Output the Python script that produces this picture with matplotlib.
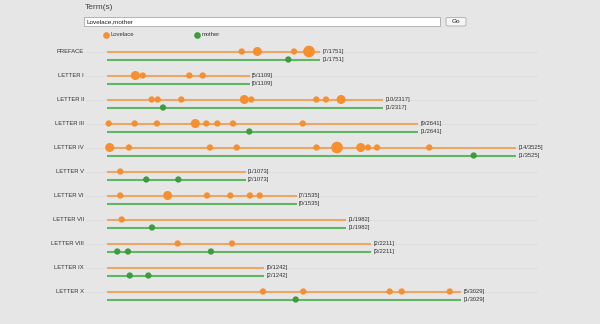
import matplotlib
matplotlib.use('Agg')
import matplotlib.pyplot as plt
from matplotlib.patches import Rectangle, FancyBboxPatch

plt.rcParams['font.family'] = ['Liberation Sans', 'DejaVu Sans']

# chapters and their lengths (words)
chapters = ['PREFACE', 'LETTER I', 'LETTER II', 'LETTER III', 'LETTER IV', 'LETTER V',
            'LETTER VI', 'LETTER VII', 'LETTER VIII', 'LETTER IX', 'LETTER X']
word_counts = [1751, 1109, 2317, 2641, 3525, 1073, 1535, 1982, 2211, 1242, 3029]

# term "Lovelace": word offsets of the hits and number of hits per dot
lovelace_pos = [
    [1225, 1367, 1700, 1836],
    [260, 327, 750, 871],
    [408, 463, 677, 1249, 1312, 1902, 1990, 2127],
    [18, 254, 456, 804, 904, 1004, 1146, 1779],
    [27, 202, 937, 1180, 1904, 2090, 2305, 2371, 2453, 2927],
    [123],
    [123, 553, 910, 1122, 1300, 1388],
    [136],
    [644, 1137],
    [],
    [1418, 1784, 2568, 2677, 3113],
]
lovelace_hits = [
    [1, 2, 1, 3],
    [2, 1, 1, 1],
    [1, 1, 1, 2, 1, 1, 1, 2],
    [1, 1, 1, 2, 1, 1, 1, 1],
    [2, 1, 1, 1, 1, 3, 2, 1, 1, 1],
    [1],
    [1, 2, 1, 1, 1, 1],
    [1],
    [1, 1],
    [],
    [1, 1, 1, 1, 1],
]

# term "mother"
mother_pos = [[1648], [], [511], [1294], [3330], [359, 650], [], [411], [96, 193, 946], [209, 378], [1715]]
mother_hits = [[1], [], [1], [1], [1], [1, 1], [], [1], [1, 1, 1], [1, 1], [1]]

terms = ['Lovelace', 'mother']
dot_colors = ['#f78f2e', '#3d9d3d']
line_colors = ['#eea566', '#62b562']

W, H = 600, 324
PX_PER_WORD = 0.1102
X0 = 106.7        # pixel where word 0 sits
Y0 = 51.5         # pixel of first row
ROW = 24.0        # row spacing in px
SUB = 8.0 / ROW   # offset of second term line
END_PAD = 188     # line runs past the chapter length

fig = plt.figure(figsize=(6, 3.24), dpi=100)
fig.patch.set_facecolor('#e6e6e6')
ax = fig.add_axes([0, 0, 1, 1])
ax.set_facecolor('#e6e6e6')
ax.set_xlim(-X0 / PX_PER_WORD, (W - X0) / PX_PER_WORD)
ax.set_ylim((H - Y0) / ROW, -Y0 / ROW)
ax.axis('off')


def dot_size(h):
    d = 3.6 + 2.7 * h  # diameter in px
    return (d * 0.72) ** 2


for i, name in enumerate(chapters):
    wc = word_counts[i]
    ax.plot([-188, 3905], [i, i], color='#dcdcdc', lw=0.6, zorder=0)
    ax.text(-205, i, name, ha='right', va='center', fontsize=4.2, color='#333333')
    rows = [(lovelace_pos[i], lovelace_hits[i]), (mother_pos[i], mother_hits[i])]
    for k, (pos, hits) in enumerate(rows):
        y = i + k * SUB
        ax.plot([0, wc + END_PAD], [y, y], color=line_colors[k], lw=1.5,
                solid_capstyle='butt', zorder=1)
        if pos:
            ax.scatter(pos, [y] * len(pos), s=[dot_size(h) for h in hits],
                       color=dot_colors[k], edgecolors='none', zorder=2)
        ax.text(wc + END_PAD + 22, y, '[%d/%d]' % (sum(hits), wc), ha='left',
                va='center', fontsize=4.2, color='#333333')


def fx(px):
    return px / W


def fy(py):
    return 1 - py / H


# header: title, search box, button
fig.text(fx(85), fy(7.5), 'Term(s)', fontsize=6, color='#444444', ha='left', va='center')
fig.patches.append(Rectangle((fx(84.3), fy(26)), (439.7 - 84.3) / W, 9.3 / H,
                             transform=fig.transFigure, facecolor='white',
                             edgecolor='#a8a8a8', lw=0.6))
fig.text(fx(86.5), fy(21.5), ','.join(terms), fontsize=4.6, color='#222222',
         ha='left', va='center')
fig.patches.append(FancyBboxPatch((fx(446), fy(26)), 20 / W, 8.6 / H,
                                  boxstyle='round,pad=0,rounding_size=0.004',
                                  transform=fig.transFigure, facecolor='#f5f5f5',
                                  edgecolor='#ababab', lw=0.6))
fig.text(fx(456), fy(21.8), 'Go', fontsize=4.6, color='#222222', ha='center', va='center')

# legend
for k, (lx, term) in enumerate(zip([106.3, 196.7], terms)):
    fig.lines.append(plt.Line2D([fx(lx)], [fy(34.7)], transform=fig.transFigure,
                                marker='o', ms=4.8, color=dot_colors[k], mec='none'))
    fig.text(fx(lx + 4.5), fy(34.7), term, fontsize=4.2, color='#333333',
             ha='left', va='center')

plt.savefig('out.png', dpi=100, facecolor=fig.get_facecolor())
